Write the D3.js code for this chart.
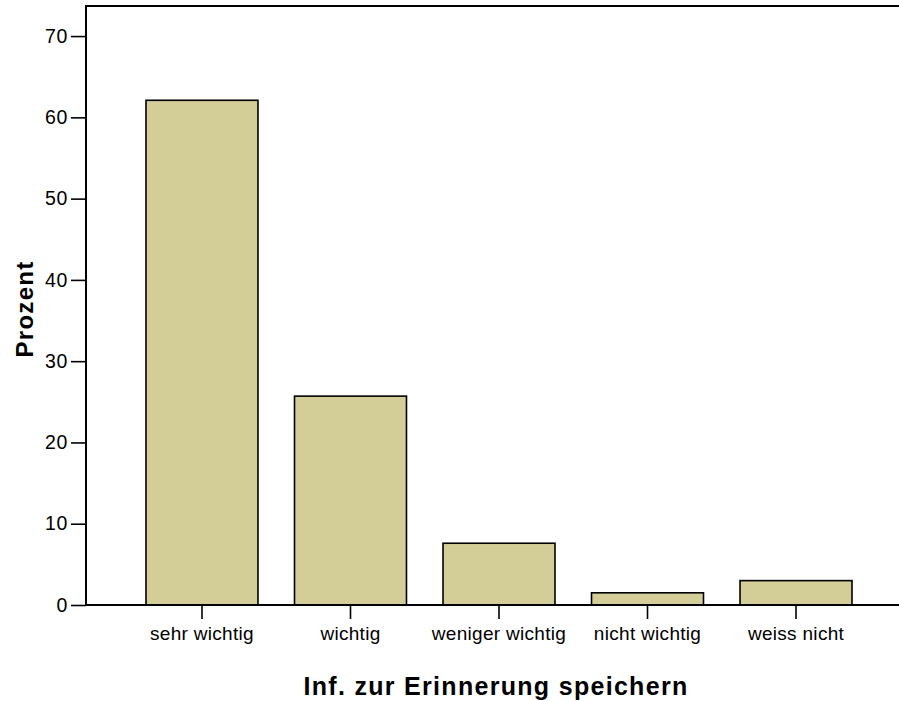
<!DOCTYPE html>
<html>
<head>
<meta charset="utf-8">
<script src="https://cdn.jsdelivr.net/npm/d3@7"></script>
<style>
  body { margin: 0; background: #fff; }
  svg { display: block; }
  .tick text { font-family: "Liberation Sans", Arial, sans-serif; fill: #000; }
</style>
</head>
<body>
<div id="chart"></div>
<script>
// answers and percentages
var categories = ["sehr wichtig", "wichtig", "weniger wichtig", "nicht wichtig", "weiss nicht"];
var percents = [62.1, 25.7, 7.6, 1.5, 3.0];
var yTicks = [0, 10, 20, 30, 40, 50, 60, 70];

function drawChart() {

  var W = 899, H = 701;
  var plotLeft = 86, plotTop = 6, plotBottom = 605;

  var svg = d3.select("#chart").append("svg")
    .attr("width", W)
    .attr("height", H);

  var x = d3.scaleBand()
    .domain(categories)
    .range([plotLeft, 912])
    .paddingInner(0.246)
    .paddingOuter(0.404);

  var y = d3.scaleLinear()
    .domain([0, 73.7])
    .range([plotBottom, plotTop]);

  // bars
  svg.selectAll("rect.bar")
    .data(categories)
    .enter().append("rect")
    .attr("class", "bar")
    .attr("x", function(d) { return x(d); })
    .attr("y", function(d, i) { return y(percents[i]); })
    .attr("width", x.bandwidth())
    .attr("height", function(d, i) { return y(0) - y(percents[i]); })
    .attr("fill", "#d3ce98")
    .attr("stroke", "#000")
    .attr("stroke-width", 1.6);

  // y axis
  var yAxis = d3.axisLeft(y)
    .tickValues(yTicks)
    .tickSize(15)
    .tickPadding(3);

  var gy = svg.append("g")
    .attr("transform", "translate(" + plotLeft + ",0)")
    .call(yAxis);
  gy.select(".domain").remove();
  gy.selectAll(".tick line").attr("stroke", "#000").attr("stroke-width", 1.6);
  gy.selectAll(".tick text").style("font-size", "19.5px").style("letter-spacing", "0.6px");

  // x axis
  var xAxis = d3.axisBottom(x)
    .tickSize(14)
    .tickPadding(8);

  var gx = svg.append("g")
    .attr("transform", "translate(0," + plotBottom + ")")
    .call(xAxis);
  gx.select(".domain").remove();
  gx.selectAll(".tick line").attr("stroke", "#000").attr("stroke-width", 1.6);
  gx.selectAll(".tick text").style("font-size", "19px").style("letter-spacing", "0.3px");

  // frame lines: left, top, baseline
  svg.append("line")
    .attr("x1", plotLeft).attr("x2", plotLeft)
    .attr("y1", plotTop).attr("y2", plotBottom)
    .attr("stroke", "#000").attr("stroke-width", 2);
  svg.append("line")
    .attr("x1", plotLeft - 1).attr("x2", W)
    .attr("y1", plotTop).attr("y2", plotTop)
    .attr("stroke", "#000").attr("stroke-width", 2);
  svg.append("line")
    .attr("x1", plotLeft - 1).attr("x2", W)
    .attr("y1", plotBottom).attr("y2", plotBottom)
    .attr("stroke", "#000").attr("stroke-width", 2);

  // axis titles
  svg.append("text")
    .attr("x", 496)
    .attr("y", 695)
    .attr("text-anchor", "middle")
    .style("font-family", "Liberation Sans, Arial, sans-serif")
    .style("font-weight", "bold")
    .style("font-size", "25px")
    .style("letter-spacing", "1.3px")
    .text("Inf. zur Erinnerung speichern");

  svg.append("text")
    .attr("transform", "translate(33,309) rotate(-90)")
    .attr("text-anchor", "middle")
    .style("font-family", "Liberation Sans, Arial, sans-serif")
    .style("font-weight", "bold")
    .style("font-size", "24px")
    .style("letter-spacing", "1.3px")
    .text("Prozent");
}

drawChart();
</script>
</body>
</html>
